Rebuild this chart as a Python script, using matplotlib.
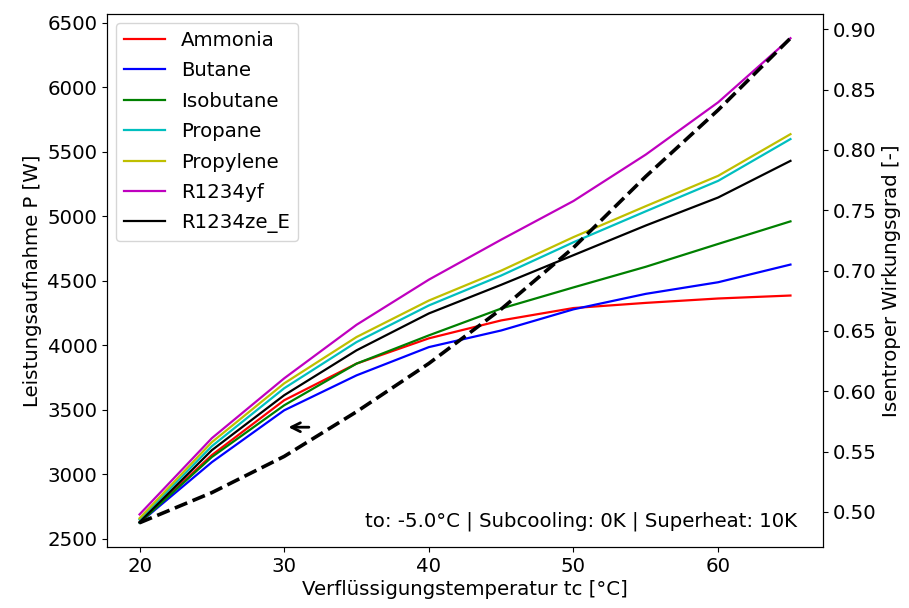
import numpy as np
import matplotlib
matplotlib.use("Agg")
import matplotlib.pyplot as plt

# condensing temperatures [°C]
tc = [20, 25, 30, 35, 40, 45, 50, 55, 60, 65]

# compressor power input [W]
p_ammonia = [2630, 3150, 3575, 3859, 4055, 4194, 4290, 4330, 4364, 4387]
p_butane = [2625, 3095, 3497, 3768, 3987, 4116, 4280, 4400, 4490, 4627]
p_isobutane = [2625, 3135, 3536, 3859, 4078, 4286, 4450, 4610, 4787, 4962]
p_propane = [2650, 3219, 3668, 4026, 4310, 4542, 4800, 5040, 5276, 5600]
p_propylene = [2660, 3250, 3706, 4065, 4348, 4580, 4840, 5080, 5315, 5638]
p_r1234yf = [2690, 3281, 3745, 4160, 4510, 4820, 5120, 5480, 5885, 6382]
p_r1234ze = [2630, 3188, 3614, 3962, 4248, 4470, 4700, 4930, 5147, 5431]

# isentropic efficiency [-]
eta = [0.491, 0.516, 0.546, 0.583, 0.623, 0.668, 0.719, 0.778, 0.833, 0.8925]

fluids = ["Ammonia", "Butane", "Isobutane", "Propane", "Propylene", "R1234yf", "R1234ze_E"]
powers = [p_ammonia, p_butane, p_isobutane, p_propane, p_propylene, p_r1234yf, p_r1234ze]
colors = ["r", "b", "g", "c", "y", "m", "k"]

plt.rcParams["font.size"] = 14.2

fig, ax = plt.subplots(figsize=(9.09, 6.08), dpi=100)
fig.subplots_adjust(left=0.1177, right=0.9054, bottom=0.1003, top=0.977)

for name, p, c in zip(fluids, powers, colors):
    ax.plot(tc, p, color=c, lw=1.6, label=name)

ax.set_xlabel("Verflüssigungstemperatur tc [°C]", labelpad=3)
ax.set_ylabel("Leistungsaufnahme P [W]")
ax.legend(loc="upper left", handlelength=2.1, labelspacing=0.58, borderaxespad=0.45)

ax.annotate("", xy=(30.1, 3366), xytext=(31.9, 3366),
            arrowprops=dict(arrowstyle="->", lw=2, color="k", mutation_scale=16))

ax.text(0.964, 0.03, "to: -5.0°C | Subcooling: 0K | Superheat: 10K",
        transform=ax.transAxes, ha="right", va="bottom")

ax2 = ax.twinx()
ax2.plot(tc, eta, "k--", lw=2.6)
ax2.set_ylabel("Isentroper Wirkungsgrad [-]")

fig.savefig("out.png", dpi=100)
